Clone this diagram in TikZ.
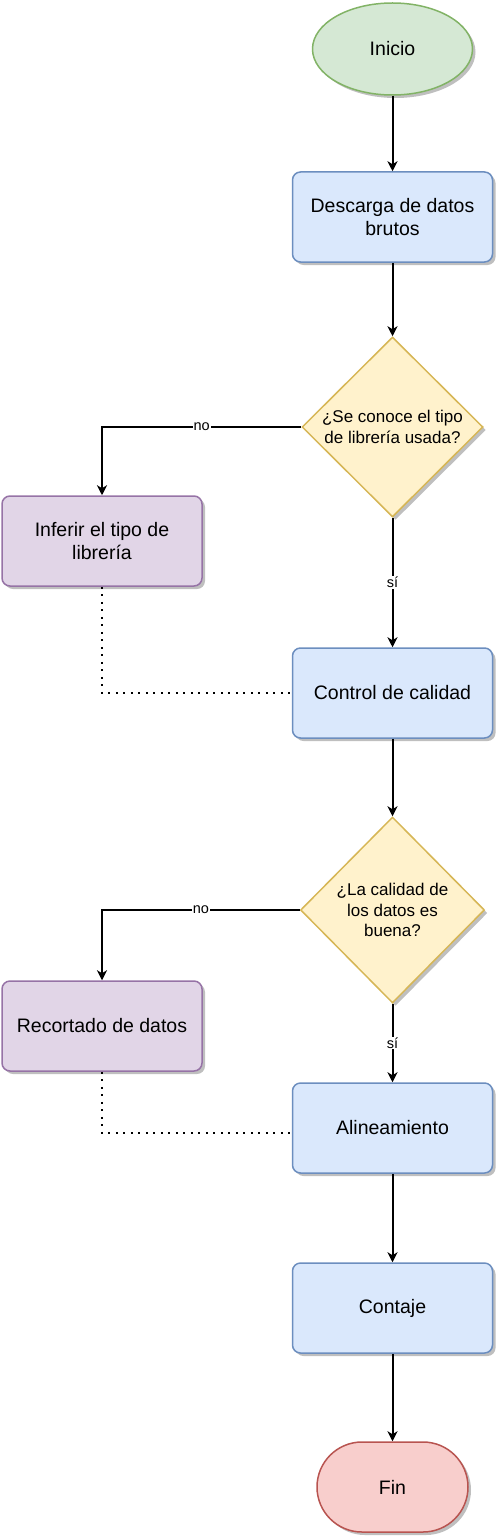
\documentclass[tikz,border=0pt]{standalone}
\definecolor{gfill}{HTML}{D5E8D4}
\definecolor{gline}{HTML}{82B366}
\definecolor{bfill}{HTML}{DAE8FC}
\definecolor{bline}{HTML}{6C8EBF}
\definecolor{yfill}{HTML}{FFF2CC}
\definecolor{yline}{HTML}{D6B656}
\definecolor{pfill}{HTML}{E1D5E7}
\definecolor{pline}{HTML}{9673A6}
\definecolor{rfill}{HTML}{F8CECC}
\definecolor{rline}{HTML}{B85450}
\usepackage{fontspec}
\setmainfont{Liberation Sans}
\usepackage{tikz}
\usetikzlibrary{arrows.meta,positioning,shapes.geometric,shadows}

\begin{document}
\begin{tikzpicture}[x=1pt, y=-1pt,
    shade/.style={drop shadow={shadow xshift=3pt, shadow yshift=-3pt, opacity=0.25, fill=black}},
    box/.style={draw=bline, fill=bfill, line width=1.5pt, rounded corners=8pt, shade,
      minimum width=200pt, minimum height=90pt, inner sep=0pt, align=center,
      font=\fontsize{19.5}{23.5}\selectfont},
    sidebox/.style={box, draw=pline, fill=pfill},
    ask/.style={diamond, aspect=1, draw=yline, fill=yfill, line width=1.5pt, shade,
      inner sep=0pt, align=center, font=\fontsize{17}{20.5}\selectfont},
    flow/.style={line width=2pt, -{Stealth[length=10pt, width=10pt, inset=3pt]}},
    link/.style={line width=2pt, dash pattern=on 2pt off 5.5pt},
    lbl/.style={fill=white, inner sep=1pt, font=\fontsize{14.5}{17}\selectfont}]
  \useasboundingbox (0,0) rectangle (496,1538);

  % main column
  \node[ellipse, draw=gline, fill=gfill, line width=1.5pt, shade, minimum width=160pt,
        minimum height=92pt, font=\fontsize{19.5}{23.5}\selectfont] (inicio) at (392.5,49) {Inicio};
  \node[box] (descarga) at (392.5,217) {Descarga de datos\\brutos};
  \node[ask, minimum width=181pt, minimum height=180pt] (conoce) at (392.5,427)
    {¿Se conoce el tipo\\de librería usada?};
  \node[box] (control) at (392.5,693) {Control de calidad};
  \node[ask, minimum width=184pt, minimum height=186pt] (calidad) at (392.5,910)
    {¿La calidad de\\los datos es\\buena?};
  \node[box] (alinea) at (392.5,1128) {Alineamiento};
  \node[box] (contaje) at (392.5,1308) {Contaje};
  \node[draw=rline, fill=rfill, line width=1.5pt, rounded corners=45pt, shade,
        minimum width=151pt, minimum height=90pt,
        font=\fontsize{19.5}{23.5}\selectfont] (fin) at (392.5,1487) {Fin};

  % side column
  \node[sidebox] (inferir) at (102,541) {Inferir el tipo de\\librería};
  \node[sidebox] (recorte) at (102,1026) {Recortado de datos};

  % connectors
  \draw[flow] (inicio) -- (descarga);
  \draw[flow] (descarga) -- (conoce);
  \draw[flow] (conoce.west) -| node[lbl, pos=0.25] {no} (inferir.north);
  \draw[flow] (conoce) -- node[lbl] {sí} (control);
  \draw[link] (inferir.south) |- (control.west);
  \draw[flow] (control) -- (calidad);
  \draw[flow] (calidad.west) -| node[lbl, pos=0.25] {no} (recorte.north);
  \draw[flow] (calidad) -- node[lbl] {sí} (alinea);
  \draw[link] (recorte.south) |- ([yshift=-5pt]alinea.west);
  \draw[flow] (alinea) -- (contaje);
  \draw[flow] (contaje) -- (fin);
\end{tikzpicture}
\end{document}
